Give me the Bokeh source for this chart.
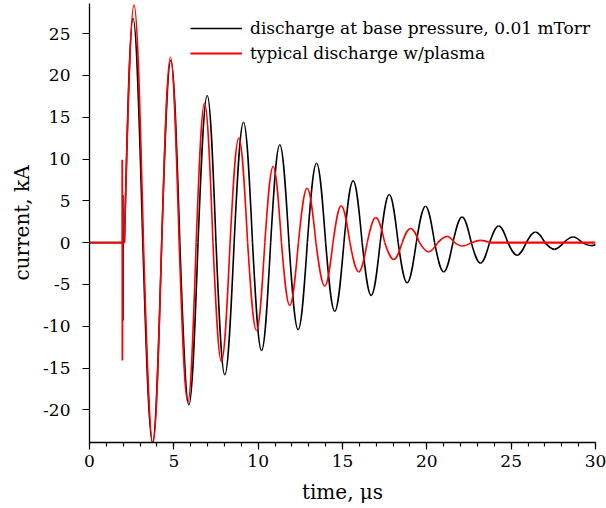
import numpy as np
from bokeh.plotting import figure
from bokeh.models import (Range1d, SingleIntervalTicker, Legend, LegendItem,
                          PrintfTickFormatter)
from bokeh.embed import file_html
from bokeh.resources import INLINE

# ---- data (time in microseconds, current in kA) ----
# discharge at base pressure (black)
black_pre_t = [0.0, 1.98, 1.98, 1.985, 1.99, 2.07]
black_pre_v = [0.0, 0.0, 5.7, -9.3, 0.0, 0.0]
black_ext_t = [2.58, 3.74, 4.82, 5.89, 6.98, 8.02, 9.13, 10.2, 11.28, 12.37,
               13.46, 14.54, 15.63, 16.7, 17.77, 18.83, 19.92, 21.0, 22.09,
               23.18, 24.26, 25.35, 26.44, 27.56, 28.67, 29.75]
black_ext_v = [26.8, -23.9, 21.8, -19.4, 17.6, -15.8, 14.4, -12.9, 11.7, -10.4,
               9.5, -8.2, 7.4, -6.3, 5.75, -4.8, 4.35, -3.5, 3.07,
               -2.45, 2.0, -1.5, 1.27, -0.8, 0.67, -0.35]

# typical discharge with plasma (red)
red_pre_t = [0.0, 1.94, 1.94, 1.95, 1.96, 2.07]
red_pre_v = [0.0, 0.0, 9.9, -14.1, 0.0, 0.0]
red_ext_t = [2.64, 3.76, 4.80, 5.83, 6.82, 7.82, 8.85, 9.9, 10.89, 11.87,
             12.9, 13.95, 14.92, 15.96, 16.97, 18.04, 19.03, 20.1, 21.2,
             22.1, 23.2]
red_ext_v = [28.4, -24.0, 22.2, -19.1, 16.7, -14.2, 12.5, -10.5, 9.1, -7.5,
             6.5, -5.2, 4.4, -3.5, 3.0, -2.0, 1.7, -1.1, 0.75,
             -0.4, 0.27]
red_post_t = [23.7, 30.0]
red_post_v = [0.0, 0.0]

x_ticks_interval = 5
y_ticks_interval = 5


def half_waves(start, ext_t, ext_v):
    """Nodes: zero crossing, extremum, zero crossing, ... -> cubic Bezier pieces."""
    nodes = [(start, 0.0, False)]
    n = len(ext_t)
    for i in range(n):
        nodes.append((ext_t[i], ext_v[i], True))
        if i < n - 1:
            nodes.append(((ext_t[i] + ext_t[i + 1]) / 2.0, 0.0, False))
    last_zero = nodes[-2][0]
    nodes.append((ext_t[-1] + (ext_t[-1] - last_zero), 0.0, False))
    seg = dict(x0=[], y0=[], x1=[], y1=[], cx0=[], cy0=[], cx1=[], cy1=[])
    for (ta, va, ea), (tb, vb, eb) in zip(nodes[:-1], nodes[1:]):
        q = tb - ta
        if not ea:  # zero -> extremum
            a = vb
            cx0, cy0 = ta + 0.3343 * q, 0.5251 * a
            cx1, cy1 = ta + 0.6366 * q, a
        else:       # extremum -> zero
            a = va
            cx0, cy0 = ta + 0.3634 * q, a
            cx1, cy1 = ta + 0.6657 * q, 0.5251 * a
        seg["x0"].append(ta); seg["y0"].append(va)
        seg["x1"].append(tb); seg["y1"].append(vb)
        seg["cx0"].append(cx0); seg["cy0"].append(cy0)
        seg["cx1"].append(cx1); seg["cy1"].append(cy1)
    return seg


FONT = "DejaVu Serif"

p = figure(width=606, height=506, output_backend="svg", toolbar_location=None,
           x_range=Range1d(0, 30), y_range=Range1d(-23.9, 28.6),
           min_border_left=89, min_border_right=11, min_border_top=3,
           min_border_bottom=64)
p.outline_line_color = None
p.xgrid.visible = False
p.ygrid.visible = False
p.background_fill_color = "white"
p.border_fill_color = "white"

# curves
blk = "#000000"
red = "#ff0000"
bs = half_waves(black_pre_t[-1], black_ext_t, black_ext_v)
rs = half_waves(red_pre_t[-1], red_ext_t, red_ext_v)

r_black = p.line(black_pre_t, black_pre_v, line_color=blk, line_width=1.6)
p.bezier(x0=bs["x0"], y0=bs["y0"], x1=bs["x1"], y1=bs["y1"],
         cx0=bs["cx0"], cy0=bs["cy0"], cx1=bs["cx1"], cy1=bs["cy1"],
         line_color=blk, line_width=1.6)

r_red = p.line(red_pre_t, red_pre_v, line_color=red, line_width=1.8)
p.bezier(x0=rs["x0"], y0=rs["y0"], x1=rs["x1"], y1=rs["y1"],
         cx0=rs["cx0"], cy0=rs["cy0"], cx1=rs["cx1"], cy1=rs["cy1"],
         line_color=red, line_width=1.6)
p.line(red_post_t, red_post_v, line_color=red, line_width=2.2)

# axes
p.xaxis.ticker = SingleIntervalTicker(interval=x_ticks_interval, num_minor_ticks=5)
p.yaxis.ticker = SingleIntervalTicker(interval=y_ticks_interval, num_minor_ticks=0)
p.xaxis.formatter = PrintfTickFormatter(format="%d")
p.yaxis.formatter = PrintfTickFormatter(format="%d")
for ax in (p.xaxis[0], p.yaxis[0]):
    ax.axis_line_color = "black"
    ax.axis_line_width = 1.3
    ax.major_tick_line_color = "black"
    ax.major_tick_line_width = 1.2
    ax.minor_tick_line_color = "black"
    ax.minor_tick_line_width = 1.2
    ax.major_tick_in = 0
    ax.major_tick_out = 7
    ax.minor_tick_in = 0
    ax.minor_tick_out = 4
    ax.major_label_text_font = FONT
    ax.major_label_text_font_size = "17px"
    ax.major_label_text_color = "black"
    ax.axis_label_text_font = FONT
    ax.axis_label_text_font_size = "20px"
    ax.axis_label_text_font_style = "normal"
    ax.axis_label_text_color = "black"
p.yaxis.minor_tick_line_color = None
p.xaxis.axis_label = "time, μs"
p.yaxis.axis_label = "current, kA"
p.xaxis.major_label_standoff = 5
p.xaxis.axis_label_standoff = 10
p.yaxis.major_label_standoff = 12
p.yaxis.axis_label_standoff = 6

legend = Legend(items=[
    LegendItem(label="discharge at base pressure, 0.01 mTorr", renderers=[r_black]),
    LegendItem(label="typical discharge w/plasma", renderers=[r_red]),
], location=(101, 379))
legend.border_line_color = None
legend.background_fill_alpha = 0
legend.padding = 0
legend.margin = 0
legend.spacing = 5
legend.glyph_width = 52
legend.glyph_height = 20
legend.label_height = 20
legend.label_standoff = 8
legend.label_text_font = FONT
legend.label_text_font_size = "17px"
legend.label_text_color = "black"
p.add_layout(legend, "center")

open("out.html", "w").write(file_html(p, INLINE))
